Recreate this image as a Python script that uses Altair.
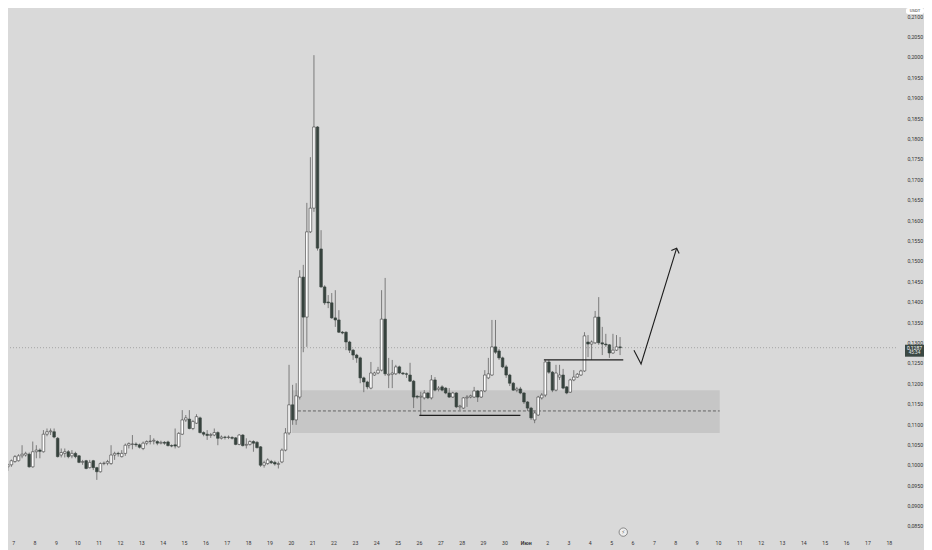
import altair as alt
import pandas as pd

# ---- 4h candles (index 0 = first candle on the left) ----
opens = [
    0.0995, 0.1000, 0.1008, 0.1010, 0.1022, 0.1024, 0.1026, 0.0995, 0.1032, 0.1036,
    0.1032, 0.1075, 0.1081, 0.1081, 0.1065, 0.1024, 0.1028, 0.1032, 0.1022, 0.1028,
    0.1022, 0.1006, 0.1010, 0.0993, 0.1010, 0.0993, 0.0983, 0.1003, 0.1004, 0.1003,
    0.1024, 0.1028, 0.1020, 0.1028, 0.1048, 0.1050, 0.1051, 0.1049, 0.1040, 0.1053,
    0.1057, 0.1058, 0.1057, 0.1053, 0.1055, 0.1056, 0.1047, 0.1049, 0.1044, 0.1075,
    0.1110, 0.1112, 0.1089, 0.1102, 0.1115, 0.1079, 0.1075, 0.1072, 0.1073, 0.1079,
    0.1065, 0.1068, 0.1067, 0.1067, 0.1066, 0.1050, 0.1073, 0.1048, 0.1050, 0.1057,
    0.1055, 0.1044, 0.0999, 0.1003, 0.1008, 0.1006, 0.1001, 0.1007, 0.1036, 0.1078,
    0.1147, 0.1110, 0.1166, 0.1460, 0.1362, 0.1571, 0.1629, 0.1828, 0.1529, 0.1436,
    0.1399, 0.1397, 0.1360, 0.1355, 0.1325, 0.1325, 0.1301, 0.1281, 0.1269, 0.1262,
    0.1213, 0.1203, 0.1188, 0.1220, 0.1225, 0.1232, 0.1357, 0.1220, 0.1222, 0.1223,
    0.1240, 0.1225, 0.1223, 0.1220, 0.1205, 0.1168, 0.1166, 0.1164, 0.1176, 0.1164,
    0.1208, 0.1185, 0.1191, 0.1188, 0.1176, 0.1166, 0.1176, 0.1142, 0.1139, 0.1164,
    0.1166, 0.1166, 0.1181, 0.1166, 0.1181, 0.1213, 0.1220, 0.1289, 0.1279, 0.1262,
    0.1240, 0.1220, 0.1200, 0.1183, 0.1186, 0.1176, 0.1154, 0.1139, 0.1110, 0.1122,
    0.1164, 0.1171, 0.1252, 0.1227, 0.1183, 0.1215, 0.1220, 0.1191, 0.1178, 0.1208,
    0.1215, 0.1220, 0.1230, 0.1301, 0.1296, 0.1299, 0.1362, 0.1299, 0.1296, 0.1294,
    0.1274, 0.1281, 0.1289,
]
highs = [
    0.1003, 0.1013, 0.1024, 0.1026, 0.1048, 0.1032, 0.1030, 0.1057, 0.1048, 0.1040,
    0.1085, 0.1089, 0.1089, 0.1089, 0.1068, 0.1040, 0.1040, 0.1036, 0.1036, 0.1032,
    0.1024, 0.1012, 0.1012, 0.1012, 0.1012, 0.0995, 0.1006, 0.1008, 0.1012, 0.1048,
    0.1032, 0.1032, 0.1036, 0.1052, 0.1055, 0.1073, 0.1055, 0.1052, 0.1057, 0.1060,
    0.1073, 0.1065, 0.1060, 0.1059, 0.1058, 0.1059, 0.1050, 0.1089, 0.1080, 0.1134,
    0.1122, 0.1134, 0.1110, 0.1124, 0.1118, 0.1082, 0.1085, 0.1078, 0.1089, 0.1082,
    0.1072, 0.1071, 0.1072, 0.1070, 0.1068, 0.1075, 0.1075, 0.1065, 0.1060, 0.1060,
    0.1058, 0.1046, 0.1010, 0.1016, 0.1012, 0.1010, 0.1008, 0.1040, 0.1090, 0.1245,
    0.1196, 0.1200, 0.1477, 0.1490, 0.1642, 0.1754, 0.2004, 0.1830, 0.1575, 0.1440,
    0.1416, 0.1421, 0.1428, 0.1379, 0.1328, 0.1327, 0.1304, 0.1284, 0.1272, 0.1265,
    0.1216, 0.1206, 0.1252, 0.1228, 0.1240, 0.1428, 0.1458, 0.1262, 0.1257, 0.1245,
    0.1243, 0.1227, 0.1226, 0.1250, 0.1208, 0.1171, 0.1179, 0.1183, 0.1178, 0.1220,
    0.1215, 0.1193, 0.1195, 0.1190, 0.1188, 0.1179, 0.1178, 0.1147, 0.1166, 0.1171,
    0.1172, 0.1191, 0.1183, 0.1183, 0.1232, 0.1262, 0.1355, 0.1355, 0.1284, 0.1265,
    0.1245, 0.1223, 0.1203, 0.1191, 0.1191, 0.1178, 0.1156, 0.1142, 0.1132, 0.1169,
    0.1176, 0.1257, 0.1257, 0.1230, 0.1245, 0.1245, 0.1235, 0.1193, 0.1211, 0.1232,
    0.1225, 0.1233, 0.1325, 0.1318, 0.1305, 0.1377, 0.1411, 0.1338, 0.1321, 0.1296,
    0.1321, 0.1318, 0.1313,
]
lows = [
    0.0985, 0.0995, 0.1005, 0.1008, 0.1016, 0.1020, 0.0993, 0.0993, 0.1016, 0.1016,
    0.1030, 0.1070, 0.1073, 0.1065, 0.1018, 0.1018, 0.1018, 0.1016, 0.1016, 0.1016,
    0.1004, 0.1000, 0.0989, 0.0991, 0.0987, 0.0963, 0.0981, 0.0999, 0.0999, 0.1000,
    0.1012, 0.1020, 0.1018, 0.1022, 0.1040, 0.1038, 0.1044, 0.1040, 0.1036, 0.1048,
    0.1050, 0.1050, 0.1048, 0.1050, 0.1049, 0.1045, 0.1043, 0.1040, 0.1042, 0.1073,
    0.1105, 0.1087, 0.1085, 0.1100, 0.1077, 0.1070, 0.1061, 0.1066, 0.1070, 0.1048,
    0.1062, 0.1062, 0.1063, 0.1062, 0.1048, 0.1048, 0.1045, 0.1040, 0.1047, 0.1032,
    0.1040, 0.0995, 0.0993, 0.1000, 0.1002, 0.0998, 0.0991, 0.1004, 0.1033, 0.1073,
    0.1098, 0.1098, 0.1160, 0.1276, 0.1289, 0.1568, 0.1620, 0.1525, 0.1434, 0.1392,
    0.1384, 0.1358, 0.1338, 0.1323, 0.1320, 0.1281, 0.1274, 0.1257, 0.1250, 0.1200,
    0.1178, 0.1185, 0.1185, 0.1218, 0.1222, 0.1229, 0.1218, 0.1188, 0.1188, 0.1220,
    0.1222, 0.1220, 0.1213, 0.1203, 0.1139, 0.1162, 0.1122, 0.1160, 0.1161, 0.1160,
    0.1180, 0.1180, 0.1180, 0.1173, 0.1164, 0.1164, 0.1139, 0.1134, 0.1137, 0.1142,
    0.1163, 0.1164, 0.1154, 0.1164, 0.1178, 0.1210, 0.1218, 0.1272, 0.1257, 0.1237,
    0.1213, 0.1193, 0.1181, 0.1178, 0.1173, 0.1149, 0.1132, 0.1110, 0.1102, 0.1120,
    0.1160, 0.1166, 0.1223, 0.1178, 0.1180, 0.1208, 0.1185, 0.1173, 0.1176, 0.1205,
    0.1213, 0.1218, 0.1228, 0.1264, 0.1257, 0.1296, 0.1294, 0.1269, 0.1289, 0.1262,
    0.1272, 0.1279, 0.1269,
]
closes = [
    0.1000, 0.1010, 0.1020, 0.1022, 0.1026, 0.1028, 0.0995, 0.1032, 0.1036, 0.1033,
    0.1075, 0.1081, 0.1083, 0.1068, 0.1020, 0.1030, 0.1032, 0.1020, 0.1028, 0.1020,
    0.1006, 0.1008, 0.0991, 0.1006, 0.0993, 0.0983, 0.1003, 0.1004, 0.1008, 0.1024,
    0.1028, 0.1027, 0.1028, 0.1048, 0.1052, 0.1051, 0.1049, 0.1043, 0.1053, 0.1057,
    0.1058, 0.1060, 0.1053, 0.1055, 0.1053, 0.1047, 0.1046, 0.1046, 0.1077, 0.1110,
    0.1115, 0.1089, 0.1106, 0.1118, 0.1079, 0.1075, 0.1072, 0.1074, 0.1079, 0.1065,
    0.1068, 0.1067, 0.1068, 0.1065, 0.1050, 0.1073, 0.1047, 0.1050, 0.1057, 0.1053,
    0.1042, 0.0999, 0.1005, 0.1012, 0.1005, 0.1002, 0.1003, 0.1036, 0.1078, 0.1147,
    0.1110, 0.1169, 0.1460, 0.1362, 0.1571, 0.1629, 0.1828, 0.1531, 0.1436, 0.1397,
    0.1397, 0.1360, 0.1355, 0.1325, 0.1323, 0.1301, 0.1281, 0.1269, 0.1262, 0.1213,
    0.1203, 0.1191, 0.1225, 0.1225, 0.1232, 0.1357, 0.1223, 0.1222, 0.1225, 0.1240,
    0.1225, 0.1223, 0.1222, 0.1205, 0.1166, 0.1166, 0.1168, 0.1176, 0.1164, 0.1208,
    0.1183, 0.1188, 0.1183, 0.1176, 0.1166, 0.1176, 0.1142, 0.1144, 0.1164, 0.1166,
    0.1169, 0.1181, 0.1166, 0.1181, 0.1220, 0.1223, 0.1289, 0.1276, 0.1262, 0.1240,
    0.1220, 0.1200, 0.1183, 0.1186, 0.1176, 0.1154, 0.1139, 0.1115, 0.1127, 0.1166,
    0.1171, 0.1252, 0.1227, 0.1183, 0.1225, 0.1220, 0.1188, 0.1176, 0.1208, 0.1215,
    0.1222, 0.1230, 0.1316, 0.1296, 0.1301, 0.1362, 0.1299, 0.1296, 0.1294, 0.1274,
    0.1281, 0.1289, 0.1287,
]

# ---- time axis labels (one per day, 6 candles per day) ----
day_labels = ["7", "8", "9", "10", "11", "12", "13", "14", "15", "16", "17", "18",
              "19", "20", "21", "22", "23", "24", "25", "26", "27", "28", "29", "30",
              "Июн", "2", "3", "4", "5", "6", "7", "8", "9", "10", "11", "12",
              "13", "14", "15", "16", "17", "18"]
CANDLES_PER_DAY = 6
FIRST_LABEL_AT = 1.5
month_label = "Июн"

# ---- price axis labels ----
price_ticks = [0.085, 0.090, 0.095, 0.100, 0.105, 0.110, 0.115, 0.120, 0.125,
               0.130, 0.135, 0.140, 0.145, 0.150, 0.155, 0.160, 0.165, 0.170,
               0.175, 0.180, 0.185, 0.190, 0.195, 0.200, 0.205, 0.210]

# ---- drawings ----
zone_x = [79.8, 200.0]
zone_price = [0.1183, 0.1078]
zone_mid_x = [81.5, 200.0]
zone_mid_price = [0.1132]
level_x0 = [115.6, 150.6]
level_x1 = [144.0, 172.9]
level_price = [0.1121, 0.1257]
arrow_x = [175.9, 177.9, 187.9]
arrow_price = [0.1281, 0.1247, 0.1531]
head_x = [186.4, 187.9, 188.6]
head_price = [0.1525, 0.1531, 0.1518]
icon_x = [172.9]
icon_price = [0.0835]
countdown = ["45:34"]
quote = ["USDT"]

# ---- tables ----
n = len(closes)
candles = pd.DataFrame({"i": list(range(n)), "open": opens, "high": highs,
                        "low": lows, "close": closes})
zone_df = pd.DataFrame({"x0": [zone_x[0]], "x1": [zone_x[1]],
                        "top": [zone_price[0]], "bot": [zone_price[1]]})
mid_df = pd.DataFrame({"x0": [zone_mid_x[0]], "x1": [zone_mid_x[1]], "y": zone_mid_price})
levels_df = pd.DataFrame({"x0": level_x0, "x1": level_x1, "y": level_price})
arrow_df = pd.DataFrame({
    "x": arrow_x + head_x,
    "y": arrow_price + head_price,
    "seg": ["shaft"] * len(arrow_x) + ["head"] * len(head_x),
    "k": list(range(len(arrow_x))) + list(range(len(head_x))),
})
icon_df = pd.DataFrame({"x": icon_x, "y": icon_price, "t": ["⚡"]})
last_price = closes[-1]
last_df = pd.DataFrame({"price": [last_price],
                        "label": [f"{last_price:.4f}".replace(".", ",")],
                        "timer": countdown})
badge_df = pd.DataFrame({"t": quote})

# ---- geometry ----
W, H = 888, 528
RIGHT = 28          # keeps the whole svg at 916 px, the page's inner width
PX_PER_CANDLE = 3.6
X0 = 1.45
X1 = X0 + W / PX_PER_CANDLE
Y0, Y1 = 0.082549, 0.211961

FONT = "Roboto"
day_ticks = [FIRST_LABEL_AT + CANDLES_PER_DAY * k for k in range(len(day_labels))]
month_tick = day_ticks[day_labels.index(month_label)]
label_array = "[" + ",".join("'" + s + "'" for s in day_labels) + "]"

x_axis = alt.Axis(
    values=day_ticks,
    labelExpr=f"{label_array}[round((datum.value - {FIRST_LABEL_AT}) / {CANDLES_PER_DAY})]",
    title=None, grid=False, domain=False, ticks=False,
    labelFont=FONT, labelFontSize=5.2, labelColor="#333333", labelPadding=4,
    labelFlush=False, labelOverlap=False,
    labelFontWeight=alt.condition(f"abs(datum.value - {month_tick}) < 0.1",
                                  alt.value("bold"), alt.value("normal")),
)
y_axis = alt.Axis(
    orient="right", values=price_ticks,
    labelExpr="replace(format(datum.value, '.4f'), '.', ',')",
    title=None, grid=False, domain=False, ticks=False,
    labelFont=FONT, labelFontSize=5.2, labelColor="#333333", labelPadding=11,
    labelOverlap=False, labelFlush=False,
)
xs = alt.Scale(domain=[X0, X1], nice=False, zero=False)
ys = alt.Scale(domain=[Y0, Y1], nice=False, zero=False)


def X(f):
    return alt.X(f"{f}:Q", scale=xs, axis=x_axis, title=None)


def Y(f):
    return alt.Y(f"{f}:Q", scale=ys, axis=y_axis, title=None)


zone = alt.Chart(zone_df).mark_rect(fill="#c6c6c6").encode(
    x=X("x0"), x2=alt.X2("x1"), y=Y("top"), y2=alt.Y2("bot"))
mid = alt.Chart(mid_df).mark_rule(color="#4a4a4a", strokeDash=[3, 2], strokeWidth=0.8).encode(
    x=X("x0"), x2=alt.X2("x1"), y=Y("y"))
priceline = alt.Chart(last_df).mark_rule(color="#8c8c8c", strokeDash=[1, 2], strokeWidth=0.7).encode(
    y=Y("price"))
wick = alt.Chart(candles).mark_rule(color="#707070", strokeWidth=0.9, clip=True).encode(
    x=X("i"), y=Y("low"), y2=alt.Y2("high"))
up = "datum.close >= datum.open"
body = alt.Chart(candles).mark_bar(size=2.6, strokeWidth=0.6, clip=True).encode(
    x=X("i"), y=Y("open"), y2=alt.Y2("close"),
    fill=alt.condition(up, alt.value("#ffffff"), alt.value("#37433e")),
    stroke=alt.condition(up, alt.value("#3c3c3c"), alt.value("#37433e")),
)
levels = alt.Chart(levels_df).mark_rule(color="#1e1e1e", strokeWidth=1.3).encode(
    x=X("x0"), x2=alt.X2("x1"), y=Y("y"))
arrow = alt.Chart(arrow_df).mark_line(color="#1e1e1e", strokeWidth=1.1).encode(
    x=X("x"), y=Y("y"), detail="seg:N", order="k:Q")
icon = alt.Chart(icon_df).mark_point(shape="circle", size=70, fill="#eeeeee", fillOpacity=1,
                                     stroke="#707070", strokeWidth=0.8, opacity=1).encode(
    x=X("x"), y=Y("y"))
icon_t = alt.Chart(icon_df).mark_text(fontSize=5, color="#555555", font="DejaVu Sans").encode(
    x=X("x"), y=Y("y"), text="t:N")
tag = alt.Chart(last_df).mark_tick(color="#3b4843", thickness=12, size=19, opacity=1, yOffset=3).encode(
    y=Y("price"), x=alt.value(W + 18.5))
tag_t1 = alt.Chart(last_df).mark_text(color="#ffffff", fontSize=5, font=FONT, dy=0).encode(
    y=Y("price"), x=alt.value(W + 18.5), text="label:N")
tag_t2 = alt.Chart(last_df).mark_text(color="#e8e8e8", fontSize=4.6, font=FONT, dy=5.5).encode(
    y=Y("price"), x=alt.value(W + 18.5), text="timer:N")
badge = alt.Chart(badge_df).mark_rect(fill="#ffffff", cornerRadius=2).encode(
    x=alt.value(W + 10), x2=alt.value(W + 28), y=alt.value(0), y2=alt.value(6))
badge_t = alt.Chart(badge_df).mark_text(fontSize=4.3, color="#333333", font=FONT).encode(
    x=alt.value(W + 19), y=alt.value(3), text="t:N")

chart = alt.layer(
    zone, mid, priceline, wick, body, levels, arrow, icon, icon_t,
    tag, tag_t1, tag_t2, badge, badge_t,
).properties(
    width=W, height=H,
    padding={"left": 0, "top": 0, "right": RIGHT, "bottom": 14},
    autosize=alt.AutoSizeParams(type="none"),
    background="#d9d9d9",
).configure_view(stroke=None)

chart.save("out.html", embed_options={"renderer": "svg", "actions": False})
